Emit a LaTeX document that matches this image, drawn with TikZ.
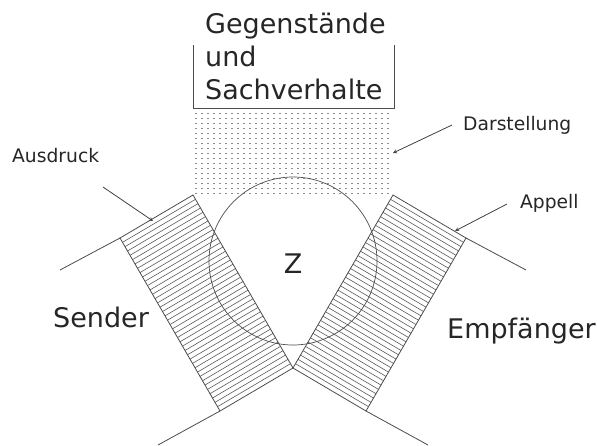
\documentclass[tikz,border=0pt]{standalone}
\usepackage{fontspec}
\setmainfont{DejaVu Sans}
\usetikzlibrary{calc}

\begin{document}
\begin{tikzpicture}[
    x=1pt, y=-1pt,
    big/.style = {
        font=\fontsize{27}{33}\selectfont,
        inner sep=0pt, text=black!85
    },
    small/.style = {
        font=\fontsize{18.7}{22}\selectfont,
        inner sep=0pt, text=black!85
    },
    edge/.style = {line width=0.8pt, draw=black!70},
    hatch/.style = {line width=0.6pt, draw=black!65},
    dotcol/.style = {line width=1.2pt, draw=black!45, dash pattern=on 1pt off 4pt},
    arr/.style = {->, >=stealth, line width=0.8pt, color=black!75}
]
\useasboundingbox (0,0) rectangle (597,445);

%% ---- GEGENSTAENDE UND SACHVERHALTE ----
\node[big, anchor=base west, align=left] (objekte) at (205,99)
    {Gegenstände\\und\\Sachverhalte};
\draw[edge] (193,45) -- (193,108) -- (394,108) -- (394,45);

%% ---- DARSTELLUNG FIELD ----
\foreach \x in {196,202,...,392}
    \draw[dotcol] (\x,113) -- (\x,195);

%% ---- BAND CORNERS ----
\coordinate (lA) at (120,238);
\coordinate (lB) at (193,195);
\coordinate (lC) at (293,368);
\coordinate (lD) at (220,411);
\coordinate (rA) at (466,238);
\coordinate (rB) at (393,195);
\coordinate (rC) at (293,368);
\coordinate (rD) at (366,411);

%% ---- AUSDRUCK / APPELL BANDS ----
\foreach \t in {1,...,39} {
    \draw[hatch] ($(lA)!{\t/40}!(lD)$) -- ($(lB)!{\t/40}!(lC)$);
    \draw[hatch] ($(rA)!{\t/40}!(rD)$) -- ($(rB)!{\t/40}!(rC)$);
}
\draw[edge] (lA) -- (lB) -- (lC) -- (lD) -- cycle;
\draw[edge] (rA) -- (rB) -- (rC) -- (rD) -- cycle;

%% ---- SENDER / EMPFAENGER LINES ----
\coordinate (sTop) at (60,270);
\coordinate (sBot) at (158,445);
\coordinate (eTop) at (526,270);
\coordinate (eBot) at (428,445);
\draw[edge] (sTop) -- (lA);
\draw[edge] (lD) -- (sBot);
\draw[edge] (eTop) -- (rA);
\draw[edge] (rD) -- (eBot);

%% ---- ZEICHEN ----
\draw[edge, line width=0.7pt] (293,261) circle[radius=84pt];
\node[big, anchor=base] (z) at (293,273) {Z};

%% ---- LABELS ----
\node[big, anchor=base west] (sender) at (53,327) {Sender};
\node[big, anchor=base west] (empf) at (447,338) {Empfänger};
\node[small, anchor=base west] (ausdruck) at (12,162) {Ausdruck};
\node[small, anchor=base west] (darst) at (463,130) {Darstellung};
\node[small, anchor=base west] (appell) at (520,208) {Appell};

%% ---- ARROWS ----
\coordinate (ausS) at (103,187);
\coordinate (ausE) at (153,221);
\coordinate (darS) at (452,125);
\coordinate (darE) at (393,153);
\coordinate (appS) at (507,204);
\coordinate (appE) at (455,231);
\draw[arr] (ausS) -- (ausE);
\draw[arr] (darS) -- (darE);
\draw[arr] (appS) -- (appE);

\end{tikzpicture}
\end{document}
